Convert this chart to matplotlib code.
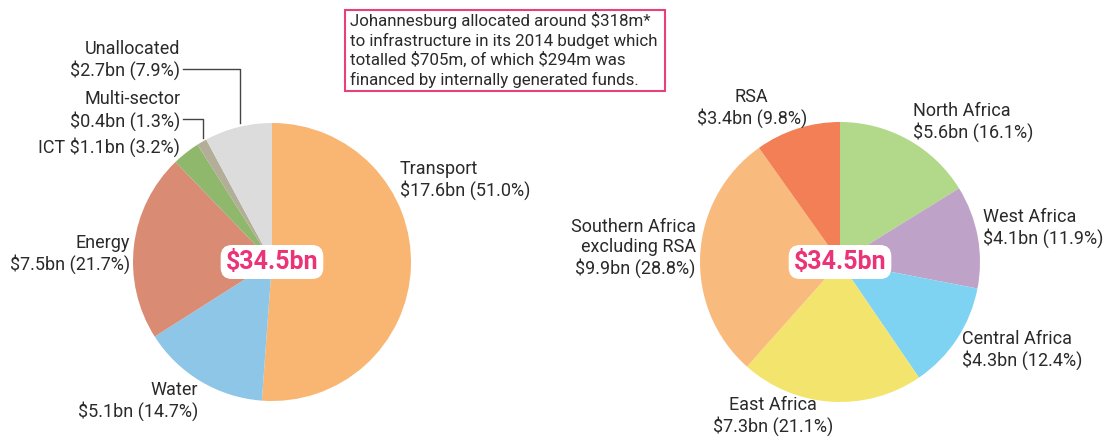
import matplotlib.pyplot as plt
from matplotlib.patches import FancyBboxPatch

# Data
sector_names = ['Transport', 'Water', 'Energy', 'ICT', 'Multi-sector', 'Unallocated']
sector_values = [17.6, 5.1, 7.5, 1.1, 0.4, 2.7]
sector_pct = [51.0, 14.7, 21.7, 3.2, 1.3, 7.9]
sector_colors = ['#F9B572', '#8EC6E8', '#D98B73', '#8FB86C', '#B3AE98', '#DCDCDC']

region_names = ['North Africa', 'West Africa', 'Central Africa', 'East Africa',
                'Southern Africa\nexcluding RSA', 'RSA']
region_values = [5.6, 4.1, 4.3, 7.3, 9.9, 3.4]
region_pct = [16.1, 11.9, 12.4, 21.1, 28.8, 9.8]
region_colors = ['#B2D88A', '#BFA2C7', '#7FD3F2', '#F3E46E', '#F9BA7E', '#F27F55']

total = '$34.5bn'
note = ("Johannesburg allocated around $318m*\n"
        "to infrastructure in its 2014 budget which\n"
        "totalled $705m, of which $294m was\n"
        "financed by internally generated funds.")

W, H = 1105, 437
plt.rcParams['font.family'] = ['Roboto', 'DejaVu Sans']
plt.rcParams['text.parse_math'] = False
fig = plt.figure(figsize=(W / 100, H / 100), dpi=100)


def pie_axes(cx, cy, r):
    # cx, cy in pixels from top-left
    return fig.add_axes([(cx - r) / W, (H - cy - r) / H, 2 * r / W, 2 * r / H])


def label(ax, name, i, values, pct, x, y, ha):
    txt = f'{name}\n${values[i]}bn ({pct[i]}%)'
    ax.text(x, y, txt, ha=ha, va='center', fontsize=13, color='#2a2a2a',
            linespacing=1.15, clip_on=False)


ax1 = pie_axes(272, 262, 139)
ax1.pie(sector_values, colors=sector_colors, startangle=90, counterclock=False,
        radius=1, wedgeprops=dict(linewidth=0))
ax1.set_xlim(-1, 1)
ax1.set_ylim(-1, 1)
ax1.axis('off')

label(ax1, 'Transport', 0, sector_values, sector_pct, 0.92, 0.59, 'left')
label(ax1, 'Water', 1, sector_values, sector_pct, -0.53, -1.0, 'right')
label(ax1, 'Energy', 2, sector_values, sector_pct, -1.02, 0.06, 'right')
ax1.text(-0.66, 0.83, f'ICT ${sector_values[3]}bn ({sector_pct[3]}%)', ha='right',
         va='center', fontsize=13, color='#2a2a2a', clip_on=False)
label(ax1, 'Multi-sector', 4, sector_values, sector_pct, -0.66, 1.09, 'right')
label(ax1, 'Unallocated', 5, sector_values, sector_pct, -0.66, 1.45, 'right')
ax1.plot([-0.64, -0.23, -0.23], [1.39, 1.39, 1.0], color='#444444', lw=1, clip_on=False)
ax1.plot([-0.64, -0.5, -0.5], [1.03, 1.03, 0.89], color='#444444', lw=1, clip_on=False)

ax2 = pie_axes(840, 262, 140)
ax2.pie(region_values, colors=region_colors, startangle=90, counterclock=False,
        radius=1, wedgeprops=dict(linewidth=0))
ax2.set_xlim(-1, 1)
ax2.set_ylim(-1, 1)
ax2.axis('off')

label(ax2, 'North Africa', 0, region_values, region_pct, 0.52, 1.0, 'left')
label(ax2, 'West Africa', 1, region_values, region_pct, 1.02, 0.24, 'left')
label(ax2, 'Central Africa', 2, region_values, region_pct, 0.87, -0.63, 'left')
label(ax2, 'East Africa', 3, region_values, region_pct, -0.48, -1.1, 'center')
label(ax2, region_names[4], 4, region_values, region_pct, -1.03, 0.1, 'right')
label(ax2, 'RSA', 5, region_values, region_pct, -0.63, 1.1, 'center')

for ax in (ax1, ax2):
    ax.text(0, 0, total, ha='center', va='center', fontsize=18, fontweight='bold',
            color='#EA3477', zorder=5,
            bbox=dict(boxstyle='round,pad=0.2,rounding_size=0.45', fc='white', ec='none'))

fig.text(350 / W, 1 - 50 / H, note, ha='left', va='center', fontsize=12.2,
         color='#2a2a2a', linespacing=1.25)
fig.patches.append(FancyBboxPatch((345 / W, 1 - 91 / H), 320 / W, 81 / H,
                                  boxstyle='square,pad=0', transform=fig.transFigure,
                                  fc='none', ec='#E8407A', lw=1.5))

fig.savefig('out.png', dpi=100)
